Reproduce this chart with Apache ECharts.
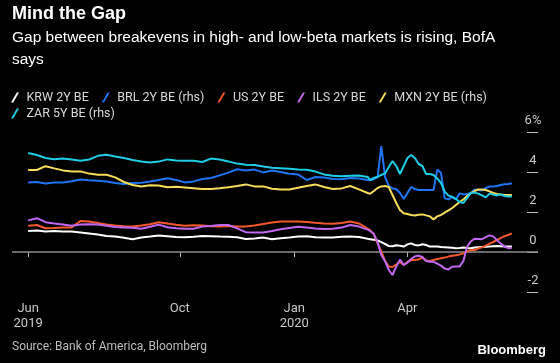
<!DOCTYPE html>
<html><head><meta charset="utf-8">
<script src="https://cdn.jsdelivr.net/npm/echarts@6/dist/echarts.min.js"></script>
<style>html,body{margin:0;padding:0;background:#000;}#c{width:560px;height:363px;}</style>
</head><body><div id="c"></div>
<script>
const dates = [
'2019-06-01','2019-06-08','2019-06-15','2019-06-22','2019-06-29','2019-07-06','2019-07-13','2019-07-20','2019-07-27','2019-08-03',
'2019-08-10','2019-08-17','2019-08-24','2019-08-31','2019-09-07','2019-09-14','2019-09-21','2019-09-28','2019-10-05','2019-10-12',
'2019-10-19','2019-10-26','2019-11-02','2019-11-09','2019-11-16','2019-11-23','2019-11-30','2019-12-07','2019-12-14','2019-12-21',
'2019-12-28','2020-01-04','2020-01-11','2020-01-18','2020-01-25','2020-02-01','2020-02-08','2020-02-15','2020-02-22','2020-02-29',
'2020-03-02','2020-03-05','2020-03-08','2020-03-11','2020-03-14','2020-03-17','2020-03-20','2020-03-23','2020-03-26','2020-03-29',
'2020-04-01','2020-04-04','2020-04-07','2020-04-10','2020-04-13','2020-04-16','2020-04-19','2020-04-22','2020-04-25','2020-04-28',
'2020-05-01','2020-05-04','2020-05-07','2020-05-10','2020-05-13','2020-05-16','2020-05-19','2020-05-22','2020-05-25','2020-05-28',
'2020-05-31','2020-06-03','2020-06-06','2020-06-09','2020-06-12','2020-06-15','2020-06-18','2020-06-21','2020-06-24'];

const krw = [1.05,1.07,1.02,1.05,1.02,1.02,0.98,0.93,0.88,0.8,0.77,0.71,0.64,0.72,0.77,0.83,0.79,0.75,0.74,0.76,0.8,0.79,0.77,0.76,0.74,0.65,0.67,0.72,0.64,0.69,0.73,0.78,0.79,0.74,0.73,0.73,0.76,0.77,0.75,0.66,
0.64,0.61,0.58,0.49,0.4,0.3,0.29,0.34,0.31,0.27,0.38,0.43,0.35,0.33,0.39,0.35,0.27,0.27,0.27,0.25,0.24,0.23,0.21,0.19,0.2,0.22,0.2,0.19,0.22,0.24,0.25,0.26,0.28,0.29,0.3,0.29,0.27,0.27,0.27];
const brl = [3.47,3.5,3.43,3.48,3.48,3.54,3.63,3.59,3.56,3.52,3.45,3.4,3.45,3.46,3.52,3.6,3.69,3.6,3.48,3.53,3.65,3.7,3.83,3.97,4.14,4.08,4.12,3.98,4.07,4.0,3.91,3.88,3.6,3.75,3.73,3.65,3.64,3.7,3.68,3.6,
3.59,3.65,3.73,5.3,3.75,3.3,3.18,3.15,2.95,2.65,2.95,3.25,3.15,3.1,3.1,3.1,3.1,3.1,4.12,3.95,2.68,2.63,2.75,2.63,2.93,2.88,2.9,2.95,3.13,3.1,3.08,3.2,3.27,3.27,3.3,3.35,3.39,3.4,3.44];
const us = [1.31,1.35,1.19,1.2,1.22,1.23,1.55,1.52,1.45,1.38,1.33,1.29,1.28,1.33,1.39,1.49,1.43,1.36,1.31,1.34,1.33,1.29,1.28,1.3,1.27,1.27,1.33,1.4,1.47,1.52,1.52,1.52,1.5,1.46,1.43,1.41,1.45,1.52,1.43,1.17,
1.08,0.88,0.43,0.03,-0.45,-0.73,-0.75,-0.63,-0.5,-0.65,-0.5,-0.4,-0.4,-0.38,-0.27,-0.43,-0.45,-0.4,-0.35,-0.31,-0.28,-0.23,-0.19,-0.16,-0.13,-0.07,0.03,0.1,0.1,0.18,0.23,0.32,0.42,0.5,0.6,0.69,0.79,0.85,0.93];
const ils = [1.58,1.69,1.49,1.42,1.37,1.31,1.38,1.39,1.37,1.31,1.25,1.23,1.21,1.16,1.26,1.37,1.24,1.19,1.16,1.16,1.27,1.3,1.35,1.35,1.18,0.99,0.97,0.98,1.05,1.14,1.2,1.26,1.22,1.18,1.15,1.16,1.22,1.35,1.27,1.12,
1.05,0.91,0.48,-0.15,-0.46,-0.9,-1.15,-0.73,-0.38,-0.65,-0.53,-0.35,-0.22,-0.18,-0.25,-0.45,-0.49,-0.49,-0.58,-0.68,-0.83,-0.87,-0.74,-0.72,-0.72,-0.45,0.27,0.53,0.66,0.65,0.64,0.74,0.83,0.78,0.6,0.42,0.28,0.19,0.21];
const mxn = [4.1,4.1,4.29,4.18,4.08,4.03,4.03,3.92,3.86,3.86,3.73,3.5,3.35,3.28,3.34,3.33,3.24,3.26,3.23,3.19,3.15,3.15,3.19,3.24,3.3,3.38,3.28,3.28,3.16,3.12,3.12,3.21,3.3,3.38,3.25,3.15,3.18,3.3,3.13,2.95,
2.91,3.05,3.2,3.28,3.3,3.25,2.85,2.45,2.1,1.94,1.9,1.85,1.83,1.86,1.88,1.83,1.78,1.63,1.78,1.85,1.97,2.08,2.2,2.35,2.5,2.63,2.8,2.94,3.05,3.13,3.13,3.1,3.03,2.95,2.9,2.88,2.85,2.85,2.85];
const zar = [4.95,4.85,4.7,4.64,4.68,4.62,4.56,4.62,4.81,4.86,4.77,4.7,4.6,4.52,4.47,4.52,4.63,4.58,4.56,4.56,4.5,4.67,4.62,4.53,4.42,4.36,4.35,4.27,4.21,4.19,4.16,4.13,4.11,4.02,3.88,3.81,3.79,3.81,3.82,3.75,
3.6,3.7,3.77,3.85,3.93,4.25,4.55,4.3,3.9,4.3,4.7,4.85,4.7,4.4,4.3,3.9,3.9,3.85,3.68,3.45,3.02,2.82,2.76,2.65,2.5,2.45,2.7,2.95,2.97,2.92,2.83,2.73,2.92,2.87,2.83,2.88,2.8,2.78,2.77];

const names = ['KRW 2Y BE','BRL 2Y BE (rhs)','US 2Y BE','ILS 2Y BE','MXN 2Y BE (rhs)','ZAR 5Y BE (rhs)'];
const values = [krw, brl, us, ils, mxn, zar];
const colors = ['#ffffff','#1f74f0','#f2582a','#c069f0','#f7dc5a','#1fcde6'];
const xTickDates = ['2019-06-01','2019-10-01','2020-01-01','2020-04-01'];
const monthNames = ['Jan','Feb','Mar','Apr','May','Jun','Jul','Aug','Sep','Oct','Nov','Dec'];

const ts = s => Date.UTC(+s.slice(0, 4), +s.slice(5, 7) - 1, +s.slice(8, 10));
const xTicks = xTickDates.map(ts);
const small = "Roboto,'Liberation Sans',sans-serif";
const regular = "'Liberation Sans',sans-serif";
const icon = 'path://M0,10 L2.2,10 L8,0 L5.8,0 Z';

const legendBase = {left: 11, padding: 0, itemGap: 13, itemWidth: 9, itemHeight: 10, icon: icon,
  textStyle: {color: '#d8d8d8', fontSize: 12.5, fontFamily: small, padding: [0, 0, 0, 2]}};

const chart = echarts.init(document.getElementById('c'), null, {renderer: 'canvas'});
chart.setOption({
  backgroundColor: '#000',
  animation: false,
  title: [
    {text: 'Mind the Gap', left: 12, top: 5, padding: 0,
     textStyle: {color: '#fff', fontSize: 18, fontWeight: 'bold', fontFamily: regular}},
    {text: 'Gap between breakevens in high- and low-beta markets is rising, BofA\nsays', left: 12, top: 27, padding: 0,
     textStyle: {color: '#fff', fontSize: 15.5, fontWeight: 'normal', lineHeight: 22, fontFamily: regular}},
    {text: 'Source: Bank of America, Bloomberg', left: 12, top: 341, padding: 0,
     textStyle: {color: '#bdbdbd', fontSize: 12, fontWeight: 'normal', fontFamily: small}},
    {text: 'Bloomberg', right: 14, top: 344, padding: 0,
     textStyle: {color: '#fff', fontSize: 13, fontWeight: 'bold', fontFamily: regular}}
  ],
  legend: [
    Object.assign({data: names.slice(0, 5), top: 91}, legendBase),
    Object.assign({data: names.slice(5), top: 107}, legendBase)
  ],
  grid: {left: 12, right: 22, top: 132, bottom: 71, containLabel: false},
  xAxis: {
    type: 'value', min: ts('2019-05-19'), max: ts('2020-07-15'),
    axisLine: {show: false},
    splitLine: {show: false},
    axisTick: {show: true, customValues: xTicks, length: 5, lineStyle: {color: '#bbb', width: 1}},
    axisLabel: {
      customValues: xTicks, margin: 9, color: '#c8c8c8', fontSize: 13, lineHeight: 15, fontFamily: small,
      formatter: function (v) {
        const d = new Date(v); const m = d.getUTCMonth(); const y = d.getUTCFullYear();
        const name = monthNames[m];
        if (m === 0 || (m === 5 && y === 2019)) return name + '\n' + y;
        return name;
      }
    }
  },
  yAxis: {
    type: 'value', position: 'right', min: -2, max: 6, interval: 2,
    axisLine: {show: false},
    splitLine: {show: false},
    axisTick: {show: true, inside: true, length: 11, lineStyle: {color: '#bbb', width: 1}},
    axisLabel: {inside: true, margin: 5, align: 'center', verticalAlign: 'bottom', lineHeight: 22,
      color: '#c8c8c8', fontSize: 13, fontFamily: small,
      formatter: v => v === 6 ? '6%' : String(v)}
  },
  series: names.map((n, i) => ({
    name: n, type: 'line', showSymbol: false, symbol: 'none',
    data: dates.map((d, j) => [ts(d), values[i][j]]),
    lineStyle: {color: colors[i], width: 2},
    itemStyle: {color: colors[i]},
    z: 3 + i,
    markLine: i === 0 ? {silent: true, symbol: 'none', label: {show: false},
      lineStyle: {color: '#8c8c8c', type: 'solid', width: 1.5}, data: [{yAxis: 0}], z: 1} : undefined
  }))
});
</script>
</body></html>
